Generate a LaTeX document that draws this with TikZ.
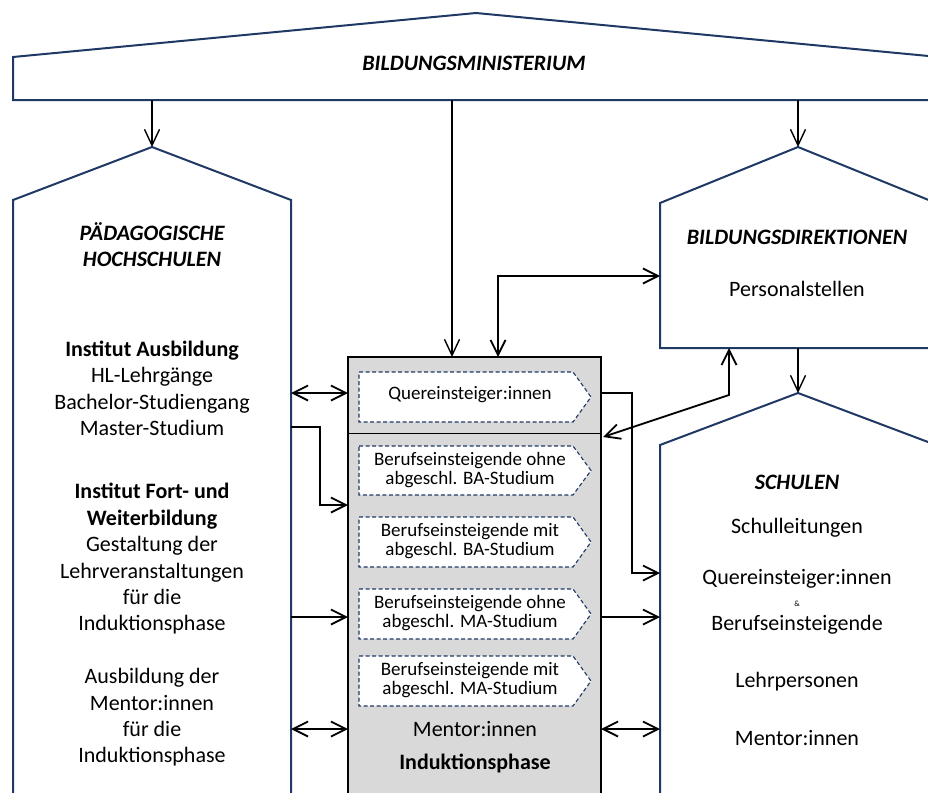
\documentclass[tikz,border=0pt]{standalone}
\usepackage{fontspec}
\setmainfont{Carlito}
\usetikzlibrary{arrows.meta}
\definecolor{navy}{HTML}{1F3864}
\definecolor{boxgray}{HTML}{D9D9D9}
\begin{document}
\begin{tikzpicture}[x=1pt,y=-1pt,
  house/.style={draw=navy, line width=2pt, fill=white, line join=miter},
  sig/.style={draw=navy, line width=1.1pt, dash pattern=on 4pt off 2.5pt, fill=white},
  conn/.style={line width=1.8pt, -{Straight Barb[length=15pt,width=15pt]}},
  dconn/.style={line width=1.8pt, {Straight Barb[length=15pt,width=15pt]}-{Straight Barb[length=15pt,width=15pt]}},
  vconn/.style={line width=1.4pt, -{Straight Barb[length=16pt,width=15pt]}},
  big/.style={font=\fontsize{22}{26.4}\selectfont, inner sep=0pt, align=center},
  hd/.style={font=\fontsize{22}{26.4}\selectfont\bfseries\itshape, inner sep=0pt, align=center},
  small/.style={font=\fontsize{19}{19}\selectfont, inner sep=0pt, align=center}]
\useasboundingbox (0,0) rectangle (928,792);
\clip (0,0) rectangle (928,792);
% --- shapes ---
\path[house] (13,100) -- (13,57) -- (476,13) -- (939,57) -- (939,100) -- cycle;
\path[house] (13,820) -- (13,200) -- (152,147) -- (291,200) -- (291,820);
\path[house] (660,348) -- (660,203) -- (798,147) -- (936,203) -- (936,348) -- cycle;
\path[house] (660,820) -- (660,445) -- (798,393) -- (936,445) -- (936,820);
\path[draw=black, line width=2.2pt, fill=boxgray] (348,357) rectangle (601,830);
\draw[line width=1pt] (348,433) -- (601,433);
\path[sig] (359,372) -- (573,372) -- (591,397) -- (573,422) -- (359,422) -- cycle;
\path[sig] (359,446) -- (573,446) -- (591,470.5) -- (573,495) -- (359,495) -- cycle;
\path[sig] (359,517) -- (573,517) -- (591,542) -- (573,567) -- (359,567) -- cycle;
\path[sig] (359,589) -- (573,589) -- (591,614) -- (573,639) -- (359,639) -- cycle;
\path[sig] (359,656) -- (573,656) -- (591,681) -- (573,706) -- (359,706) -- cycle;
% --- coordinates ---
\coordinate (minPH) at (152,100);
\coordinate (phApex) at (152,147);
\coordinate (minC) at (452,100);
\coordinate (cTopA) at (452,357);
\coordinate (minBD) at (798,100);
\coordinate (bdApex) at (798,147);
\coordinate (bdBot) at (798,348);
\coordinate (scApex) at (798,393);
\coordinate (cTopB) at (498,357);
\coordinate (bdLeft) at (660,276);
\coordinate (bdBotB) at (729,348);
\coordinate (cRightQ) at (603,437);
\coordinate (phR1) at (291,393);
\coordinate (cL1) at (348,393);
\coordinate (phR2) at (291,427);
\coordinate (cL2) at (348,505);
\coordinate (phR3) at (291,617);
\coordinate (cL3) at (348,617);
\coordinate (phR4) at (291,729);
\coordinate (cL4) at (348,729);
\coordinate (cR1) at (601,393);
\coordinate (scL1) at (660,573);
\coordinate (cR3) at (601,617);
\coordinate (scL3) at (660,617);
\coordinate (cR4) at (601,729);
\coordinate (scL4) at (660,729);
% --- connectors ---
\draw[vconn] (minPH) -- (phApex);
\draw[vconn] (minC) -- (cTopA);
\draw[vconn] (minBD) -- (bdApex);
\draw[vconn] (bdBot) -- (scApex);
\draw[dconn] (cTopB) |- (bdLeft);
\draw[dconn] (bdBotB) -- (729,395) -- (cRightQ);
\draw[dconn] (phR1) -- (cL1);
\draw[conn] (phR2) -- (320,427) |- (cL2);
\draw[conn] (phR3) -- (cL3);
\draw[dconn] (phR4) -- (cL4);
\draw[conn] (cR1) -- (632,393) |- (scL1);
\draw[conn] (cR3) -- (scL3);
\draw[dconn] (cR4) -- (scL4);
% --- texts ---
\node[hd] (tmin) at (474,63) {BILDUNGSMINISTERIUM};
\node[hd] (tph) at (152,244.5) {PÄDAGOGISCHE\\HOCHSCHULEN};
\node[big] (tph1) at (152,388.5) {\textbf{Institut Ausbildung}\\HL-Lehrgänge\\Bachelor-Studiengang\\Master-Studium};
\node[big] (tph2) at (152,559) {\textbf{Institut Fort- und}\\\textbf{Weiterbildung}\\Gestaltung der\\Lehrveranstaltungen\\für die\\Induktionsphase};
\node[big] (tph3) at (152,717.5) {Ausbildung der\\Mentor:innen\\für die\\Induktionsphase};
\node[hd] (tbd) at (797,237) {BILDUNGSDIREKTIONEN};
\node[big] (tbd1) at (797,289) {Personalstellen};
\node[hd] (tsc) at (797,482) {SCHULEN};
\node[big] (tsc1) at (797,528) {Schulleitungen};
\node[big] (tsc2) at (797,579) {Quereinsteiger:innen};
\node[font=\fontsize{8}{8}\selectfont, inner sep=0pt] (tsc3) at (797,604) {\&};
\node[big] (tsc4) at (797,625) {Berufseinsteigende};
\node[big] (tsc5) at (797,682) {Lehrpersonen};
\node[big] (tsc6) at (797,738) {Mentor:innen};
\node[small] (q) at (470,395) {Quereinsteiger:innen};
\node[small] (ba1) at (470,470) {Berufseinsteigende ohne\\abgeschl. BA-Studium};
\node[small] (ba2) at (470,541) {Berufseinsteigende mit\\abgeschl. BA-Studium};
\node[small] (ma1) at (470,613) {Berufseinsteigende ohne\\abgeschl. MA-Studium};
\node[small] (ma2) at (470,680) {Berufseinsteigende mit\\abgeschl. MA-Studium};
\node[big] (cm) at (475,729) {Mentor:innen};
\node[big, font=\fontsize{22}{26.4}\selectfont\bfseries] (ci) at (475,763) {Induktionsphase};
\end{tikzpicture}
\end{document}
